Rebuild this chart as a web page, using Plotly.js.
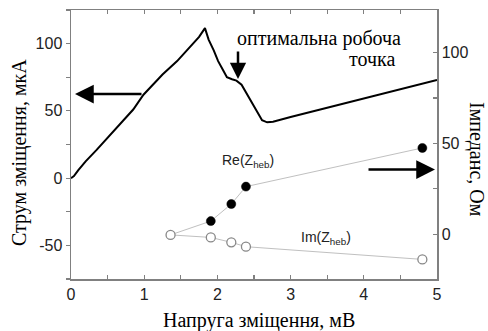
<!DOCTYPE html>
<html><head><meta charset="utf-8">
<script src="https://cdn.plot.ly/plotly-3.0.1.min.js"></script>
<style>html,body{margin:0;padding:0;background:#fff}#c{width:488px;height:331px}</style>
</head><body><div id="c"></div>
<script>
// Bias current curve (left axis, мкА)
const biasVoltage = [0, 0.04, 0.1, 0.2, 0.35, 0.5, 0.7, 0.85, 0.99, 1.1, 1.25, 1.45, 1.6, 1.75, 1.83, 1.88, 1.95, 2.01, 2.08, 2.13, 2.2, 2.26, 2.33, 2.4, 2.47, 2.54, 2.61, 2.68, 2.76, 3.0, 3.5, 4.0, 4.5, 5.0];
const biasCurrent = [0, 1.5, 6, 12.5, 21, 30, 42, 51, 62, 68.5, 77, 87, 96, 105, 111.5, 103, 95, 87, 80, 75, 73.5, 72.5, 69.5, 63, 55.5, 49, 43, 41.5, 42, 45.5, 52.5, 59.5, 66.5, 73];
// Impedance points (right axis, Ом)
const zVoltage = [1.36, 1.91, 2.19, 2.39, 4.8];
const reZ = [-0.4, 7.2, 16.6, 26.2, 47.5];
const imZ = [-0.4, -1.8, -4.5, -6.9, -13.9];
const xTicks = [0, 0.5, 1, 1.5, 2, 2.5, 3, 3.5, 4, 4.5, 5];
const xTickText = ['0', '', '1', '', '2', '', '3', '', '4', '', '5'];
const yTicks = [-75, -50, -25, 0, 25, 50, 75, 100, 125];
const yTickText = ['', '-50', '', '0', '', '50', '', '100', ''];
const y2Ticks = [0, 25, 50, 75, 100];
const y2TickText = ['0', '', '50', '', '100'];

const sans = 'Liberation Sans';
const serif = 'Liberation Serif';
const axisCol = '#808080';

const traces = [
  {x: biasVoltage, y: biasCurrent, type: 'scatter', mode: 'lines', line: {color: '#000', width: 2}, yaxis: 'y', hoverinfo: 'skip'},
  {x: zVoltage, y: reZ, type: 'scatter', mode: 'lines+markers', yaxis: 'y2',
   line: {color: '#c0c0c0', width: 1}, marker: {color: '#000', opacity: 1, size: [0, 9, 9, 9, 9], line: {color: '#000', width: 0.5}}},
  {x: zVoltage, y: imZ, type: 'scatter', mode: 'lines+markers', yaxis: 'y2',
   line: {color: '#c0c0c0', width: 1}, marker: {color: '#fff', opacity: 1, size: 9, line: {color: '#888', width: 1.3}}}
];

function px(x) { return (x - 71) / 366; }
function py(y) { return (279 - y) / 269; }

const layout = {
  width: 488, height: 331,
  margin: {l: 71, r: 51, t: 10, b: 52},
  paper_bgcolor: '#fff', plot_bgcolor: '#fff',
  showlegend: false,
  font: {family: sans},
  xaxis: {range: [0, 5], showgrid: false, zeroline: false, showline: true, linecolor: axisCol, linewidth: 1.5,
    mirror: 'ticks', ticks: 'inside', ticklen: 4, tickcolor: axisCol, tickwidth: 1.2,
    tickmode: 'array', tickvals: xTicks, ticktext: xTickText,
    tickfont: {family: sans, size: 16, color: '#222'}},
  yaxis: {range: [-75, 125], showgrid: false, zeroline: false, showline: true, linecolor: axisCol, linewidth: 1.5,
    ticks: 'outside', ticklen: 4, tickcolor: axisCol, tickwidth: 1.2,
    tickmode: 'array', tickvals: yTicks, ticktext: yTickText,
    tickfont: {family: sans, size: 16, color: '#222'}},
  yaxis2: {range: [-24.7, 123.5], overlaying: 'y', side: 'right', showgrid: false, zeroline: false, showline: true,
    linecolor: axisCol, linewidth: 1.5, ticks: 'inside', ticklen: 4, tickcolor: axisCol, tickwidth: 1.2,
    tickmode: 'array', tickvals: y2Ticks, ticktext: y2TickText,
    tickfont: {family: sans, size: 16, color: '#222'}},
  annotations: [
    {xref: 'paper', yref: 'paper', x: px(259), y: py(320), text: 'Напруга зміщення, мВ', showarrow: false,
     xanchor: 'center', yanchor: 'middle', font: {family: serif, size: 20, color: '#000'}},
    {xref: 'paper', yref: 'paper', x: px(19), y: py(153), text: 'Струм зміщення, мкА', showarrow: false, textangle: -90,
     xanchor: 'center', yanchor: 'middle', font: {family: serif, size: 20, color: '#000'}},
    {xref: 'paper', yref: 'paper', x: px(477), y: py(160), text: 'Імпеданс, Ом', showarrow: false, textangle: 90,
     xanchor: 'center', yanchor: 'middle', font: {family: serif, size: 20, color: '#000'}},
    {xref: 'paper', yref: 'paper', x: px(319), y: py(38), text: 'оптимальна робоча', showarrow: false,
     xanchor: 'center', yanchor: 'middle', font: {family: serif, size: 20, color: '#000'}},
    {xref: 'paper', yref: 'paper', x: px(372), y: py(59), text: 'точка', showarrow: false,
     xanchor: 'center', yanchor: 'middle', font: {family: serif, size: 20, color: '#000'}},
    {xref: 'paper', yref: 'paper', x: px(248), y: py(161), text: 'Re(Z<sub>heb</sub>)', showarrow: false,
     xanchor: 'center', yanchor: 'middle', font: {family: sans, size: 14, color: '#222'}},
    {xref: 'paper', yref: 'paper', x: px(326), y: py(238), text: 'Im(Z<sub>heb</sub>)', showarrow: false,
     xanchor: 'center', yanchor: 'middle', font: {family: sans, size: 14, color: '#222'}},
    {xref: 'paper', yref: 'paper', x: px(238), y: py(79), ax: 0, ay: -29, text: '', showarrow: true,
     arrowhead: 2, arrowsize: 1.3, arrowwidth: 2.5, arrowcolor: '#000'},
    {xref: 'paper', yref: 'paper', x: px(75), y: py(94), ax: 68, ay: 0, text: '', showarrow: true,
     arrowhead: 2, arrowsize: 1.5, arrowwidth: 2.5, arrowcolor: '#000'},
    {xref: 'paper', yref: 'paper', x: px(435), y: py(169.5), ax: -68, ay: 0, text: '', showarrow: true,
     arrowhead: 2, arrowsize: 1.5, arrowwidth: 2.5, arrowcolor: '#000'}
  ]
};
Plotly.newPlot('c', traces, layout, {staticPlot: true, displayModeBar: false});
</script></body></html>
